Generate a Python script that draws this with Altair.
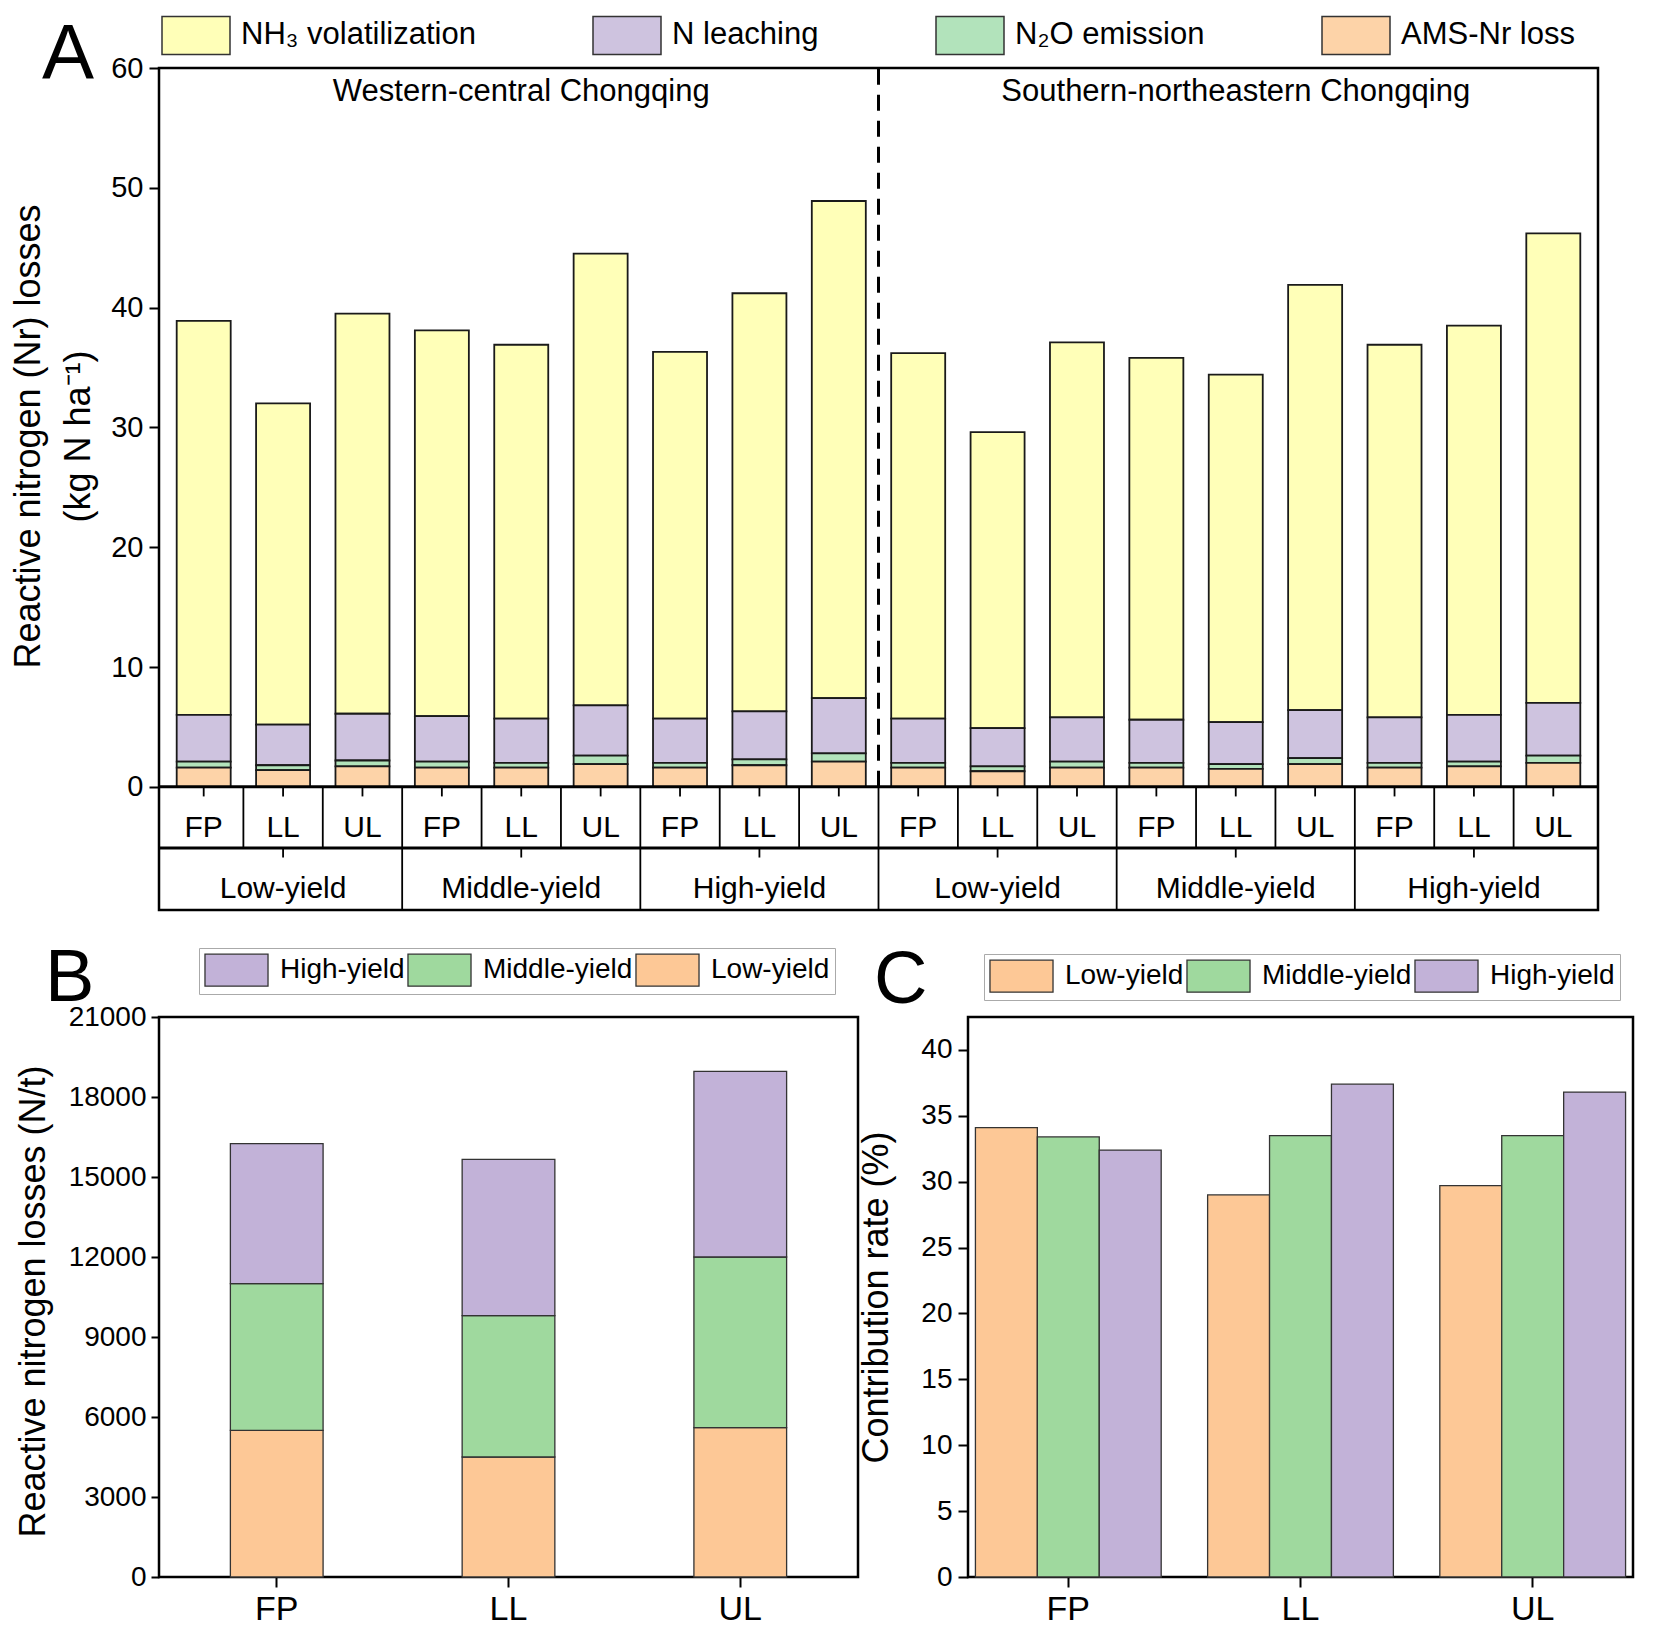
import altair as alt
import pandas as pd

FONT = "Liberation Sans"

# ---------------- data ----------------
regions = ["Western-central Chongqing", "Southern-northeastern Chongqing"]
yield_levels = ["Low-yield", "Middle-yield", "High-yield"]
practices = ["FP", "LL", "UL"]

components = ["NH₃ volatilization", "N leaching", "N₂O emission", "AMS-Nr loss"]
# per bar (region x yield x practice), 18 bars
nh3 = [32.9, 26.8, 33.4, 32.2, 31.2, 37.7, 30.6, 34.9, 41.5,
       30.5, 24.7, 31.3, 30.2, 29.0, 35.5, 31.1, 32.5, 39.2]
leach = [3.9, 3.4, 3.9, 3.8, 3.7, 4.2, 3.7, 4.0, 4.6,
         3.7, 3.2, 3.7, 3.6, 3.5, 4.0, 3.8, 3.9, 4.4]
n2o = [0.5, 0.4, 0.5, 0.5, 0.4, 0.7, 0.4, 0.5, 0.7,
       0.4, 0.4, 0.5, 0.4, 0.4, 0.5, 0.4, 0.4, 0.6]
ams = [1.6, 1.4, 1.7, 1.6, 1.6, 1.9, 1.6, 1.8, 2.1,
       1.6, 1.3, 1.6, 1.6, 1.5, 1.9, 1.6, 1.7, 2.0]

# Panel B: reactive nitrogen losses (N/t) per practice, by yield level
b_low = [5500, 4500, 5600]
b_mid = [5500, 5300, 6400]
b_high = [5250, 5860, 6960]

# Panel C: contribution rate (%)
c_low = [34.1, 29.0, 29.7]
c_mid = [33.4, 33.5, 33.5]
c_high = [32.4, 37.4, 36.8]

colA = ["#FFFFB8", "#CEC3DF", "#B2E3BB", "#FDD3A8"]
colYield = {"Low-yield": "#FDC896", "Middle-yield": "#9FD99E", "High-yield": "#C2B2D8"}

# ---------------- panel A ----------------
comp_vals = [nh3, leach, n2o, ams]
stack_rank = [3, 2, 1, 0]
rowsA = []
for i in range(18):
    for c, vals, r in zip(components, comp_vals, stack_rank):
        rowsA.append({"pos": i + 0.5, "component": c, "value": vals[i], "rank": r})
dfA = pd.DataFrame(rowsA)

ROW1 = -5.1
ROWB = -10.28
WA, HA = 1439, 842
yA = alt.Scale(domain=[ROWB, 60], nice=False, zero=False)
xA = alt.Scale(domain=[0, 18], nice=False, zero=False)
axisYA = alt.Axis(values=[0, 10, 20, 30, 40, 50, 60], domain=False, tickSize=10,
                  tickWidth=2, labelFontSize=29, labelPadding=6,
                  title=["Reactive nitrogen (Nr) losses", "(kg N ha⁻¹)"],
                  titleFontSize=36, titleX=-131, titleY=368, titleAngle=-90,
                  titleBaseline="middle", titleAlign="center", titleLineHeight=50)


def yenc(field):
    return alt.Y(field, scale=yA, axis=axisYA)


barsA = alt.Chart(dfA).mark_bar(width=54, stroke="#1a1a1a", strokeWidth=1.8).encode(
    x=alt.X("pos:Q", scale=xA, axis=None),
    y=alt.Y("value:Q", stack="zero", scale=yA, axis=axisYA),
    color=alt.Color("component:N",
                    scale=alt.Scale(domain=components, range=colA),
                    legend=alt.Legend(orient="none", legendX=2, legendY=-51,
                                      direction="horizontal", title=None,
                                      symbolType="M-2,-1.12H2V1.12H-2Z", symbolSize=1156,
                                      symbolOffset=17, labelOffset=27,
                                      symbolStrokeColor="#333", symbolStrokeWidth=1.5,
                                      symbolOpacity=1, labelFontSize=31,
                                      labelLimit=700, columnPadding=114, padding=0)),
    order=alt.Order("rank:Q", sort="ascending"),
)

vl_rows = [{"x": float(k), "y": 0.0, "y2": ROW1} for k in range(1, 18)]
vl_rows += [{"x": float(k), "y": ROW1, "y2": ROWB} for k in (3, 6, 9, 12, 15)]
vlines = alt.Chart(pd.DataFrame(vl_rows)).mark_rule(color="black", strokeWidth=1.8).encode(
    x=alt.X("x:Q", scale=xA, axis=None), y=yenc("y:Q"), y2="y2:Q")

hlines = alt.Chart(pd.DataFrame({"y": [0.0, ROW1]})).mark_rule(color="black", strokeWidth=3).encode(
    y=yenc("y:Q"), x=alt.value(0), x2=alt.value(WA))

dash = alt.Chart(pd.DataFrame({"x": [9.0], "y": [0.0], "y2": [60.0]})).mark_rule(
    color="black", strokeWidth=3, strokeDash=[16, 10]).encode(
    x=alt.X("x:Q", scale=xA, axis=None), y=yenc("y:Q"), y2="y2:Q")

tick_rows = [{"x": i + 0.5, "y": 0.0, "y2": -0.8} for i in range(18)]
tick_rows += [{"x": 3 * g + 1.5, "y": ROW1, "y2": ROW1 - 0.8} for g in range(6)]
ticksA = alt.Chart(pd.DataFrame(tick_rows)).mark_rule(color="black", strokeWidth=1.8).encode(
    x=alt.X("x:Q", scale=xA, axis=None), y=yenc("y:Q"), y2="y2:Q")

reg_df = pd.DataFrame({"x": [4.5, 13.5], "y": [58.0, 58.0], "t": regions})
regText = alt.Chart(reg_df).mark_text(fontSize=31, baseline="middle", font=FONT).encode(
    x=alt.X("x:Q", scale=xA, axis=None), y=yenc("y:Q"), text="t:N")

prac_df = pd.DataFrame({"x": [i + 0.5 for i in range(18)], "y": -3.4,
                        "t": [practices[i % 3] for i in range(18)]})
pracText = alt.Chart(prac_df).mark_text(fontSize=30, baseline="middle", font=FONT).encode(
    x=alt.X("x:Q", scale=xA, axis=None), y=yenc("y:Q"), text="t:N")

grp_df = pd.DataFrame({"x": [3 * g + 1.5 for g in range(6)], "y": -8.55,
                       "t": [yield_levels[g % 3] for g in range(6)]})
grpText = alt.Chart(grp_df).mark_text(fontSize=30, baseline="middle", font=FONT).encode(
    x=alt.X("x:Q", scale=xA, axis=None), y=yenc("y:Q"), text="t:N")

letterA = alt.Chart(pd.DataFrame({"t": ["A"]})).mark_text(
    fontSize=78, align="left", baseline="alphabetic", font=FONT).encode(
    text="t:N", x=alt.value(-117), y=alt.value(11))

chartA = alt.layer(barsA, vlines, hlines, dash, ticksA, regText, pracText, grpText, letterA).properties(
    width=WA, height=HA)

# ---------------- panel B ----------------
rowsB = []
for j, p in enumerate(practices):
    for yl, vals, r in zip(yield_levels, [b_low, b_mid, b_high], [0, 1, 2]):
        rowsB.append({"practice": p, "yieldB": yl, "value": vals[j], "rank": r})
dfB = pd.DataFrame(rowsB)

legBC = dict(orient="none", direction="horizontal", title=None,
             symbolType="M-1.97,-1H1.97V1H-1.97Z", symbolSize=1024,
             symbolOffset=15.5, labelOffset=26.5,
             symbolStrokeColor="#333", symbolStrokeWidth=1.3, symbolOpacity=1,
             labelFontSize=28, labelLimit=400, columnPadding=0, padding=5,
             strokeColor="#aaaaaa")

WB, HB = 699, 560
barsB = alt.Chart(dfB).mark_bar(stroke="#333", strokeWidth=1.3).encode(
    x=alt.X("practice:N", sort=practices,
            scale=alt.Scale(paddingInner=0.6, paddingOuter=0.308),
            axis=alt.Axis(labelAngle=0, title=None, labelFontSize=34, tickSize=10,
                          tickWidth=2, labelPadding=5, domain=False)),
    y=alt.Y("value:Q", stack="zero", scale=alt.Scale(domain=[0, 21000], nice=False),
            axis=alt.Axis(values=list(range(0, 21001, 3000)), format="d", domain=False,
                          tickSize=8, tickWidth=2, labelFontSize=28, labelPadding=5,
                          title="Reactive nitrogen losses (N/t)", titleFontSize=36,
                          titleX=-126, titleY=284, titleBaseline="middle", titleAlign="center")),
    color=alt.Color("yieldB:N",
                    scale=alt.Scale(domain=["High-yield", "Middle-yield", "Low-yield"],
                                    range=[colYield["High-yield"], colYield["Middle-yield"], colYield["Low-yield"]]),
                    legend=alt.Legend(legendX=40, legendY=-69, **legBC)),
    order=alt.Order("rank:Q", sort="ascending"),
)
letterB = alt.Chart(pd.DataFrame({"t": ["B"]})).mark_text(
    fontSize=74, align="left", baseline="alphabetic", font=FONT).encode(
    text="t:N", x=alt.value(-114), y=alt.value(-16))
chartB = alt.layer(barsB, letterB).properties(width=WB, height=HB)

# ---------------- panel C ----------------
rowsC = []
for j, p in enumerate(practices):
    for yl, vals in zip(yield_levels, [c_low, c_mid, c_high]):
        rowsC.append({"practice": p, "yieldC": yl, "value": vals[j]})
dfC = pd.DataFrame(rowsC)

WC, HC = 665, 560
barsC = alt.Chart(dfC).mark_bar(stroke="#333", strokeWidth=1.3).encode(
    x=alt.X("practice:N", sort=practices,
            scale=alt.Scale(paddingInner=0.2, paddingOuter=0.032),
            axis=alt.Axis(labelAngle=0, title=None, labelFontSize=34, tickSize=10,
                          tickWidth=2, labelPadding=5, domain=False)),
    xOffset=alt.XOffset("yieldC:N", sort=yield_levels, scale=alt.Scale(paddingInner=0, paddingOuter=0)),
    y=alt.Y("value:Q", scale=alt.Scale(domain=[0, 42.5], nice=False),
            axis=alt.Axis(values=list(range(0, 41, 5)), domain=False,
                          tickSize=10, tickWidth=2, labelFontSize=28, labelPadding=6,
                          title="Contribution rate (%)", titleFontSize=36,
                          titleX=-92, titleY=280, titleBaseline="middle", titleAlign="center")),
    color=alt.Color("yieldC:N",
                    scale=alt.Scale(domain=yield_levels,
                                    range=[colYield[k] for k in yield_levels]),
                    legend=alt.Legend(legendX=16, legendY=-63, **legBC)),
)
letterC = alt.Chart(pd.DataFrame({"t": ["C"]})).mark_text(
    fontSize=74, align="left", baseline="alphabetic", font=FONT).encode(
    text="t:N", x=alt.value(-94), y=alt.value(-14))
chartC = alt.layer(barsC, letterC).properties(width=WC, height=HC)

bottom = alt.hconcat(chartB, chartC, spacing=110, bounds="flush").resolve_scale(color="independent")
chart = alt.vconcat(chartA, bottom, spacing=107, bounds="flush").resolve_scale(color="independent")

chart = chart.properties(
    padding={"left": 0, "top": 7, "right": 0, "bottom": -2},
    background="white",
).configure_view(stroke="black", strokeWidth=2.5).configure_axis(
    domainColor="black", tickColor="black", labelColor="black", titleColor="black",
    labelFont=FONT, titleFont=FONT, titleFontWeight="normal", grid=False,
).configure_legend(labelFont=FONT, labelColor="black").configure_text(font=FONT)

chart.save("out.html", embed_options={"renderer": "svg", "actions": False})
